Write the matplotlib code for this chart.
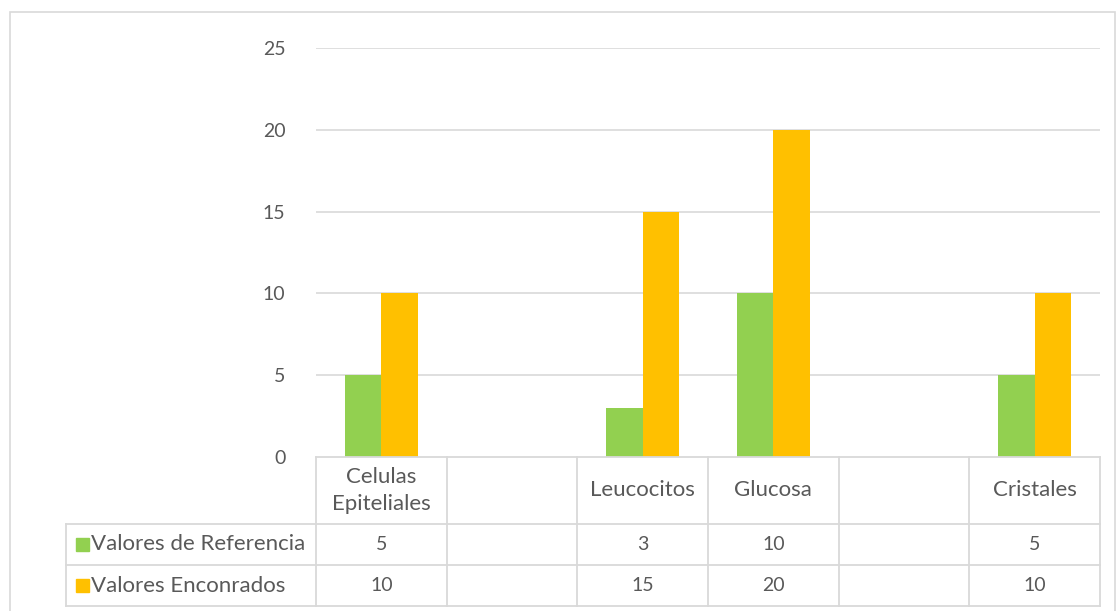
import matplotlib
matplotlib.use("Agg")
import matplotlib.pyplot as plt
from matplotlib.patches import Rectangle
from matplotlib.lines import Line2D
import numpy as np

plt.rcParams['font.family'] = ['Lato', 'DejaVu Sans']

categories = ["Celulas\nEpiteliales", "", "Leucocitos", "Glucosa", "", "Cristales"]
series_names = ["Valores de Referencia", "Valores Enconrados"]
valores_referencia = [5, np.nan, 3, 10, np.nan, 5]
valores_encontrados = [10, np.nan, 15, 20, np.nan, 10]
colors = ["#92d050", "#ffc000"]
y_ticks = [0, 5, 10, 15, 20, 25]

W, H = 1116, 611
fig = plt.figure(figsize=(W / 100, H / 100), dpi=100)

def fx(px):
    return px / W

def fy(py):
    return 1 - py / H

# plot area in pixel terms
left, right, top, bottom = 316, 1100, 48, 457
ax = fig.add_axes([fx(left), fy(bottom), fx(right - left), (bottom - top) / H])

grid_c = "#d9d9d9"
text_c = "#595959"
fs_num = 14
fs_txt = 16

n = len(categories)
x = np.arange(n)
bw = 0.28
ax.bar(x - bw / 2, valores_referencia, bw, color=colors[0], zorder=3)
ax.bar(x + bw / 2, valores_encontrados, bw, color=colors[1], zorder=3)

ax.set_xlim(-0.5, n - 0.5)
ax.set_ylim(0, 25)
ax.set_yticks(y_ticks)
ax.set_yticklabels([str(v) for v in y_ticks], fontsize=fs_num, color=text_c)
ax.tick_params(axis='y', length=0, pad=22)
ax.set_xticks([])
for s in ax.spines.values():
    s.set_visible(False)
for v in y_ticks[1:]:
    ax.axhline(v, color=grid_c, lw=1.2, zorder=1)

# data table below the plot
ah = bottom - top
aw = right - left

def ay(py):
    return (bottom - py) / ah

def axx(px):
    return (px - left) / aw

row_edges = [457, 524, 565, 606]
table_left = 66
tr = ax.transAxes
lw = 1.3

def hline(x0, x1, y):
    ax.add_line(Line2D([x0, x1], [y, y], transform=tr, color=grid_c, lw=lw, clip_on=False, zorder=5))

def vline(xv, y0, y1):
    ax.add_line(Line2D([xv, xv], [y0, y1], transform=tr, color=grid_c, lw=lw, clip_on=False, zorder=5))

hline(0, 1, ay(row_edges[0]))
for r in row_edges[1:]:
    hline(axx(table_left), 1, ay(r))
for i in range(n + 1):
    vline(i / n, ay(row_edges[0]), ay(row_edges[-1]))
vline(axx(table_left), ay(row_edges[1]), ay(row_edges[-1]))

# header cells
for i, c in enumerate(categories):
    ax.text((i + 0.5) / n, ay((row_edges[0] + row_edges[1]) / 2), c, transform=tr,
            ha='center', va='center', fontsize=fs_txt, color=text_c, linespacing=1.45)

# series rows
for r, (name, vals, col) in enumerate(zip(series_names,
                                          [valores_referencia, valores_encontrados], colors)):
    yc = ay((row_edges[r + 1] + row_edges[r + 2]) / 2)
    sq = 13
    ax.add_patch(Rectangle((axx(76), yc - (sq / 2) / ah), sq / aw, sq / ah, transform=tr,
                           color=col, clip_on=False))
    ax.text(axx(91), yc, name, transform=tr, ha='left', va='center', fontsize=fs_txt, color=text_c)
    for i, v in enumerate(vals):
        if not np.isnan(v):
            ax.text((i + 0.5) / n, yc, f"{v:g}", transform=tr, ha='center', va='center',
                    fontsize=fs_num, color=text_c)

# chart frame
fig.add_artist(Rectangle((fx(10), fy(612)), fx(1105), (612 - 12) / H, transform=fig.transFigure,
                         fill=False, edgecolor=grid_c, lw=1.2))

fig.savefig("out.png", dpi=100)
